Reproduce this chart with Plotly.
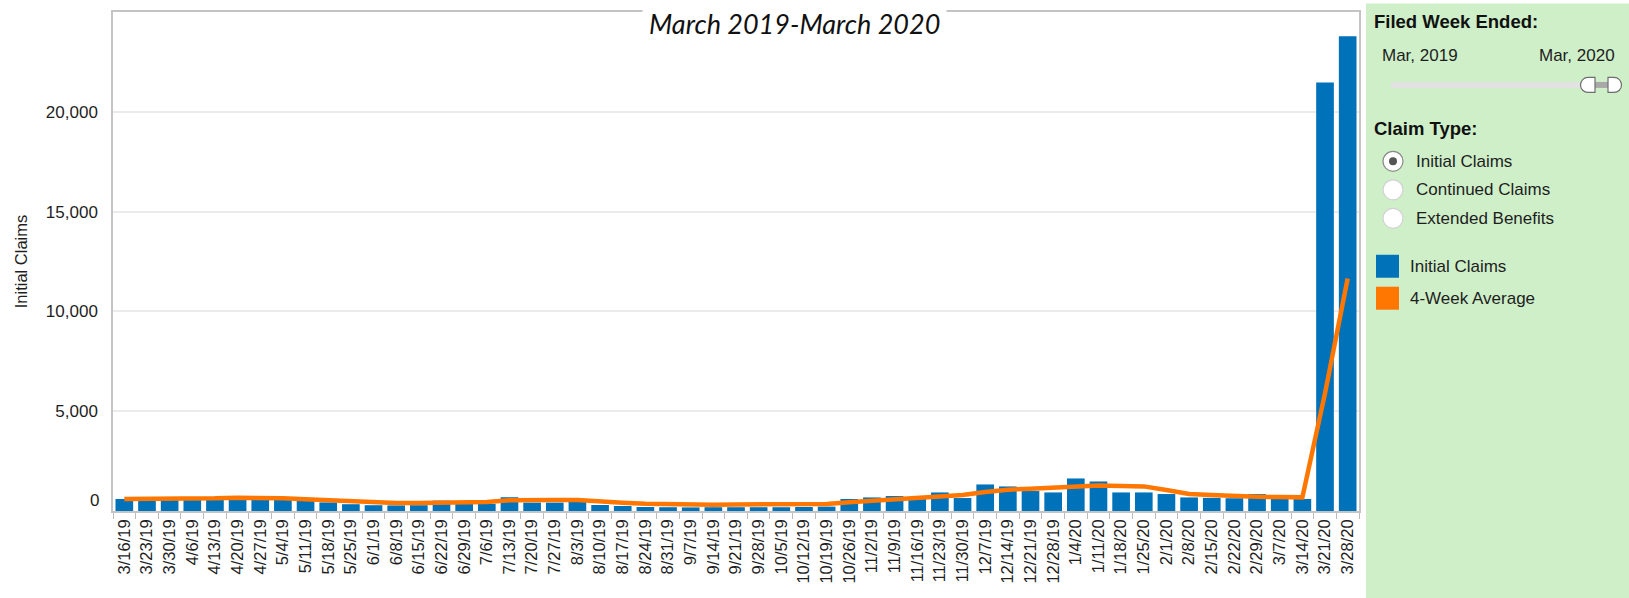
import plotly.graph_objects as go

# ---------------- data ----------------
weeks = ["3/16/19", "3/23/19", "3/30/19", "4/6/19", "4/13/19", "4/20/19", "4/27/19",
         "5/4/19", "5/11/19", "5/18/19", "5/25/19", "6/1/19", "6/8/19", "6/15/19",
         "6/22/19", "6/29/19", "7/6/19", "7/13/19", "7/20/19", "7/27/19", "8/3/19",
         "8/10/19", "8/17/19", "8/24/19", "8/31/19", "9/7/19", "9/14/19", "9/21/19",
         "9/28/19", "10/5/19", "10/12/19", "10/19/19", "10/26/19", "11/2/19", "11/9/19",
         "11/16/19", "11/23/19", "11/30/19", "12/7/19", "12/14/19", "12/21/19",
         "12/28/19", "1/4/20", "1/11/20", "1/18/20", "1/25/20", "2/1/20", "2/8/20",
         "2/15/20", "2/22/20", "2/29/20", "3/7/20", "3/14/20", "3/21/20", "3/28/20"]

initial_claims = [600, 560, 560, 580, 600, 620, 650, 580, 500, 430, 340, 290, 280, 290,
                  520, 370, 360, 690, 420, 420, 450, 300, 250, 200, 190, 180, 190, 190,
                  190, 190, 200, 220, 600, 680, 750, 700, 930, 650, 1330, 1230, 1000,
                  930, 1630, 1480, 930, 930, 850, 680, 660, 640, 850, 630, 600,
                  21470, 23780]

four_week_avg = [600, 600, 600, 617, 633, 667, 667, 633, 583, 533, 467, 417, 400, 400,
                 417, 450, 450, 533, 517, 550, 550, 467, 417, 367, 333, 317, 317, 330,
                 330, 330, 330, 350, 433, 517, 600, 683, 767, 800, 950, 1067, 1117,
                 1167, 1233, 1283, 1250, 1233, 1050, 850, 800, 733, 717, 700, 683,
                 5900, 11650]

y_tick_values = [0, 5000, 10000, 15000, 20000]
y_tick_labels = ["", "5,000", "10,000", "15,000", "20,000"]
claim_types = ["Initial Claims", "Continued Claims", "Extended Benefits"]
legend_names = ["Initial Claims", "4-Week Average"]

BLUE = "#0072BA"
ORANGE = "#FF7700"
FONT = "Liberation Sans, Arial, Helvetica, sans-serif"
TXT = "#1e1e1e"

W, H = 1629, 598
L, R, T, B = 113, 1359, 11.5, 511


def px(x):
    return (x - L) / (R - L)


def py(y):
    return (B - y) / (B - T)


fig = go.Figure()
fig.add_trace(go.Bar(x=weeks, y=initial_claims, name=legend_names[0],
                     marker=dict(color=BLUE, line=dict(width=0)), showlegend=False))
fig.add_trace(go.Scatter(x=weeks, y=four_week_avg, name=legend_names[1], mode="lines",
                         line=dict(color=ORANGE, width=4.5), showlegend=False))

shapes = []
annotations = []

# right-hand filter panel
shapes.append(dict(type="rect", xref="paper", yref="paper", x0=px(1366), x1=px(W + 2),
                   y0=py(H + 2), y1=py(3), fillcolor="#CFEFC9", line=dict(width=0),
                   layer="below"))


def text(s, x, y, size=17, bold=False, xanchor="left", color=TXT):
    annotations.append(dict(text=f"<b>{s}</b>" if bold else s, xref="paper", yref="paper",
                            x=px(x), y=py(y), xanchor=xanchor, yanchor="middle",
                            showarrow=False, font=dict(family=FONT, size=size, color=color)))


text("Filed Week Ended:", 1372, 21, size=18.5, bold=True, color="#111")
text("Mar, 2019", 1380, 55)
text("Mar, 2020", 1617, 55, xanchor="right")

# slider track + handles
shapes.append(dict(type="rect", xref="paper", yref="paper", x0=px(1391), x1=px(1590),
                   y0=py(87.5), y1=py(81.5), fillcolor="#E2E2E2", line=dict(width=0)))
shapes.append(dict(type="rect", xref="paper", yref="paper", x0=px(1594), x1=px(1609),
                   y0=py(87.5), y1=py(81.5), fillcolor="#A9A9A9", line=dict(width=0)))


def pt(x, y):
    return f"{px(x):.6f},{py(y):.6f}"


r, k = 7.5, 7.5 * 0.5523
cy = 84.5
left_handle = (f"M {pt(1595, cy - r)} L {pt(1588, cy - r)} "
               f"C {pt(1588 - k, cy - r)} {pt(1588 - r, cy - k)} {pt(1588 - r, cy)} "
               f"C {pt(1588 - r, cy + k)} {pt(1588 - k, cy + r)} {pt(1588, cy + r)} "
               f"L {pt(1595, cy + r)} Z")
right_handle = (f"M {pt(1608, cy - r)} L {pt(1614, cy - r)} "
                f"C {pt(1614 + k, cy - r)} {pt(1614 + r, cy - k)} {pt(1614 + r, cy)} "
                f"C {pt(1614 + r, cy + k)} {pt(1614 + k, cy + r)} {pt(1614, cy + r)} "
                f"L {pt(1608, cy + r)} Z")
for p in (left_handle, right_handle):
    shapes.append(dict(type="path", xref="paper", yref="paper", path=p,
                       fillcolor="white", line=dict(color="#6E6E6E", width=1.2)))

text("Claim Type:", 1372, 128, size=18.5, bold=True, color="#111")

radio_y = [161, 189.5, 218]
for i, (name, yy) in enumerate(zip(claim_types, radio_y)):
    rr = 10
    shapes.append(dict(type="circle", xref="paper", yref="paper",
                       x0=px(1393 - rr), x1=px(1393 + rr), y0=py(yy + rr), y1=py(yy - rr),
                       fillcolor="white",
                       line=dict(color="#8A8A8A" if i == 0 else "#D2D2D2", width=1.2)))
    if i == 0:
        d = 4
        shapes.append(dict(type="circle", xref="paper", yref="paper",
                           x0=px(1393 - d), x1=px(1393 + d), y0=py(yy + d), y1=py(yy - d),
                           fillcolor="#555555", line=dict(width=0)))
    text(name, 1414, yy)

# legend
for name, color, yy in zip(legend_names, [BLUE, ORANGE], [266, 298]):
    shapes.append(dict(type="rect", xref="paper", yref="paper", x0=px(1376), x1=px(1399),
                       y0=py(yy + 11.5), y1=py(yy - 11.5), fillcolor=color,
                       line=dict(width=0)))
    text(name, 1408, yy)

# chart title over the frame
annotations.append(dict(text="<i>March 2019-March 2020</i>", xref="paper", yref="paper",
                        x=px(794), y=py(23), xanchor="center", yanchor="middle",
                        showarrow=False, bgcolor="white", borderpad=6,
                        font=dict(family="Lato, Open Sans, sans-serif", size=27,
                                  color="#111")))

# the "0" label sits a little above the baseline
annotations.append(dict(text="0", xref="paper", yref="y", x=0, y=0, xanchor="right",
                        yanchor="middle", xshift=-12, yshift=11, showarrow=False,
                        font=dict(family=FONT, size=17, color=TXT)))

fig.update_layout(
    width=W, height=H,
    margin=dict(l=L, r=W - R, t=T, b=H - B, pad=0),
    paper_bgcolor="white", plot_bgcolor="white",
    bargap=0.22,
    shapes=shapes, annotations=annotations,
    showlegend=False,
    xaxis=dict(type="category", range=[-0.5, len(weeks) - 0.5], tickangle=-90,
               ticks="outside", tickson="boundaries", ticklen=6, tickcolor="#BDBDBD",
               tickwidth=1, showline=True, mirror=True, linecolor="#C4C4C4", linewidth=1.5,
               showgrid=False, automargin=False,
               tickfont=dict(family=FONT, size=16.5, color=TXT)),
    yaxis=dict(range=[0, 25000], tickvals=y_tick_values, ticktext=y_tick_labels,
               showgrid=True, gridcolor="#EBEBEB", gridwidth=2, zeroline=False,
               showline=True, mirror=True, linecolor="#C4C4C4", linewidth=1.5,
               ticks="", ticklabelstandoff=10, automargin=False,
               tickfont=dict(family=FONT, size=17, color=TXT),
               title=dict(text="Initial Claims", standoff=14,
                          font=dict(family=FONT, size=16.5, color=TXT))),
)

fig.write_html(
    "out.html",
    config={"displayModeBar": False},
    post_script="document.body.style.margin='0';document.body.style.padding='0';"
                "document.body.style.overflow='hidden';",
)
